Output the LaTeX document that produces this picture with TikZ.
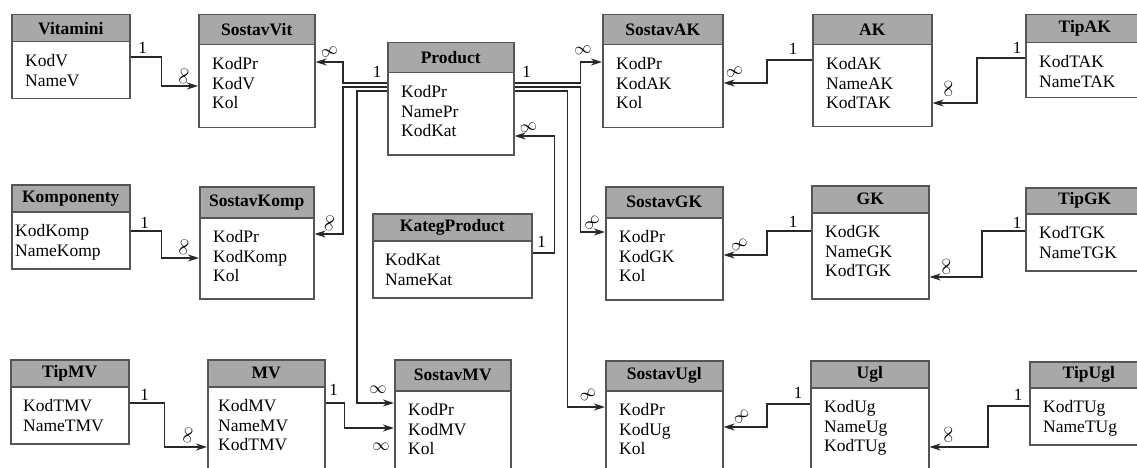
\documentclass[tikz,border=0pt]{standalone}
\usepackage{fontspec}
\setmainfont{Liberation Serif}
\usetikzlibrary{arrows.meta}
\definecolor{framegray}{RGB}{85,85,85}
\definecolor{headgray}{RGB}{168,168,168}
\definecolor{linegray}{RGB}{40,40,40}
\newcommand{\ertable}[9][]{%
  \node[ertab,minimum width=#5pt,minimum height=#6pt] (#2) at (#3,#4) {};
  \node[erhead,minimum width=#5pt,minimum height=#7pt] (#2-h) at (#2.north west) {#8};
  \node[erbody,#1] (#2-b) at ([xshift=14pt,yshift=-12pt]#2-h.south west) {#9};}
\begin{document}
\begin{tikzpicture}[x=1pt,y=-1pt,>={Stealth[length=11pt,width=7pt,inset=3.5pt]},
  ertab/.style={draw=framegray,line width=1.5pt,fill=white,inner sep=0pt,anchor=north west},
  erhead/.style={draw=framegray,line width=1.5pt,fill=headgray,inner sep=0pt,anchor=north west,
    font=\fontsize{17.5}{19}\selectfont\bfseries},
  erbody/.style={anchor=north west,inner sep=0pt,align=left,font=\fontsize{17.5}{19.5}\selectfont},
  rel/.style={draw=linegray,line width=1.3pt},
  one/.style={inner sep=0pt,font=\fontsize{17}{17}\selectfont},
  inf/.style={inner sep=0pt,font=\fontsize{16}{16}\selectfont}]
\useasboundingbox[fill=white] (0,0) rectangle (1137,468);
\clip (0,0) rectangle (1137,468);

\ertable{vit}{11}{14}{118}{84}{27}{Vitamini}{KodV\\NameV}
\ertable{svit}{198}{14}{116}{113}{30}{SostavVit}{KodPr\\KodV\\Kol}
\ertable{prod}{387}{42}{126}{112}{30}{Product}{KodPr\\NamePr\\KodKat}
\ertable{sak}{602}{14}{120}{113}{30}{SostavAK}{KodPr\\KodAK\\Kol}
\ertable{ak}{812}{14}{119}{112}{30}{AK}{KodAK\\NameAK\\KodTAK}
\ertable{tak}{1025}{14}{118}{83}{28}{TipAK}{KodTAK\\NameTAK}
\ertable[xshift=-10pt]{komp}{11}{184}{118}{84}{27}{Komponenty}{KodKomp\\NameKomp}
\ertable{skomp}{199}{186}{114}{112}{31}{SostavKomp}{KodPr\\KodKomp\\Kol}
\ertable[xshift=-1pt]{kat}{372}{213}{159}{84}{27}{KategProduct}{KodKat\\NameKat}
\ertable{sgk}{605}{186}{117}{113}{31}{SostavGK}{KodPr\\KodGK\\Kol}
\ertable{gk}{811}{185}{117}{113}{27}{GK}{KodGK\\NameGK\\KodTGK}
\ertable{tgk}{1025}{187}{118}{83}{26}{TipGK}{KodTGK\\NameTGK}
\ertable[xshift=-1pt]{tmv}{10}{359}{118}{84}{27}{TipMV}{KodTMV\\NameTMV}
\ertable[xshift=-3pt]{mv}{207}{359}{117}{120}{27}{MV}{KodMV\\NameMV\\KodTMV}
\ertable{smv}{394}{359}{116}{120}{31}{SostavMV}{KodPr\\KodMV\\Kol}
\ertable{sugl}{605}{360}{117}{120}{30}{SostavUgl}{KodPr\\KodUg\\Kol}
\ertable{ugl}{810}{360}{118}{120}{27}{Ugl}{KodUg\\NameUg\\KodTUg}
\ertable{tugl}{1029}{361}{118}{83}{26}{TipUgl}{KodTUg\\NameTUg}

\draw[rel,->] ([yshift=-43pt]vit.north east) node[one,xshift=12pt,yshift=9pt] {1}
  -- ++(31,0) |- ([yshift=-72pt]svit.north west) node[inf,xshift=-14pt,yshift=10pt,rotate=80] {$\infty$};
\draw[rel,->] ([yshift=-41pt]prod.north west) node[one,xshift=-10pt,yshift=11pt] {1}
  -- ++(-44,0) |- ([yshift=-48pt]svit.north east) node[inf,xshift=14pt,yshift=10pt,rotate=20] {$\infty$};
\draw[rel,->] ([yshift=-45pt]prod.north west) -- ++(-44,0)
  |- ([yshift=-48pt]skomp.north east) node[inf,xshift=15pt,yshift=11pt,rotate=80] {$\infty$};
\draw[rel,->] ([yshift=-49pt]prod.north west) -- ++(-30,0)
  |- ([yshift=-44pt]smv.north west) node[inf,xshift=-16pt,yshift=13pt] {$\infty$};
\draw[rel,->] ([yshift=-44pt]mv.north east) node[one,xshift=8pt,yshift=13pt] {1}
  -- ++(19,0) |- ([yshift=-69pt]smv.north west) node[inf,xshift=-13pt,yshift=-19pt] {$\infty$};
\draw[rel,->] ([yshift=-44pt]tmv.north east) node[one,xshift=15pt,yshift=8pt] {1}
  -- ++(35,0) |- ([yshift=-88pt]mv.north west) node[inf,xshift=-19pt,yshift=12pt,rotate=80] {$\infty$};
\draw[rel,->] ([yshift=-47pt]komp.north east) node[one,xshift=14pt,yshift=8pt] {1}
  -- ++(31,0) |- ([yshift=-72pt]skomp.north west) node[inf,xshift=-15pt,yshift=11pt,rotate=80] {$\infty$};
\draw[rel,->] ([yshift=-40pt]kat.north east) node[one,xshift=9pt,yshift=11pt] {1}
  -- ++(22,0) |- ([yshift=-94pt]prod.north east) node[inf,xshift=14pt,yshift=8pt,rotate=15] {$\infty$};
\draw[rel,->] ([yshift=-41pt]prod.north east) node[one,xshift=12pt,yshift=11pt] {1}
  -- ++(66,0) |- ([yshift=-48pt]sak.north west) node[inf,xshift=-19pt,yshift=12pt,rotate=10] {$\infty$};
\draw[rel,->] ([yshift=-45pt]prod.north east) -- ++(66,0)
  |- ([yshift=-46pt]sgk.north west) node[inf,xshift=-13pt,yshift=9pt,rotate=45] {$\infty$};
\draw[rel,->] ([yshift=-49pt]prod.north east) -- ++(53,0)
  |- ([yshift=-47pt]sugl.north west) node[inf,xshift=-17pt,yshift=12pt,rotate=30] {$\infty$};
\draw[rel,->] ([yshift=-46pt]ak.north west) node[one,xshift=-19pt,yshift=11pt] {1}
  -- ++(-45,0) |- ([yshift=-69pt]sak.north east) node[inf,xshift=11pt,yshift=11pt,rotate=20] {$\infty$};
\draw[rel,->] ([yshift=-44pt]tak.north west) node[one,xshift=-8pt,yshift=10pt] {1}
  -- ++(-48,0) |- ([yshift=-89pt]ak.north east) node[inf,xshift=16pt,yshift=14pt,rotate=90] {$\infty$};
\draw[rel,->] ([yshift=-46pt]gk.north west) node[one,xshift=-18pt,yshift=9pt] {1}
  -- ++(-44,0) |- ([yshift=-69pt]sgk.north east) node[inf,xshift=16pt,yshift=10pt,rotate=30] {$\infty$};
\draw[rel,->] ([yshift=-44pt]tgk.north west) node[one,xshift=-8pt,yshift=8pt] {1}
  -- ++(-43,0) |- ([yshift=-92pt]gk.north east) node[inf,xshift=17pt,yshift=10pt,rotate=90] {$\infty$};
\draw[rel,->] ([yshift=-44pt]ugl.north west) node[one,xshift=-12pt,yshift=11pt] {1}
  -- ++(-43,0) |- ([yshift=-67pt]sugl.north east) node[inf,xshift=18pt,yshift=10pt,rotate=45] {$\infty$};
\draw[rel,->] ([yshift=-45pt]tugl.north west) node[one,xshift=-11pt,yshift=11pt] {1}
  -- ++(-41,0) |- ([yshift=-87pt]ugl.north east) node[inf,xshift=19pt,yshift=12pt,rotate=90] {$\infty$};
\end{tikzpicture}
\end{document}
